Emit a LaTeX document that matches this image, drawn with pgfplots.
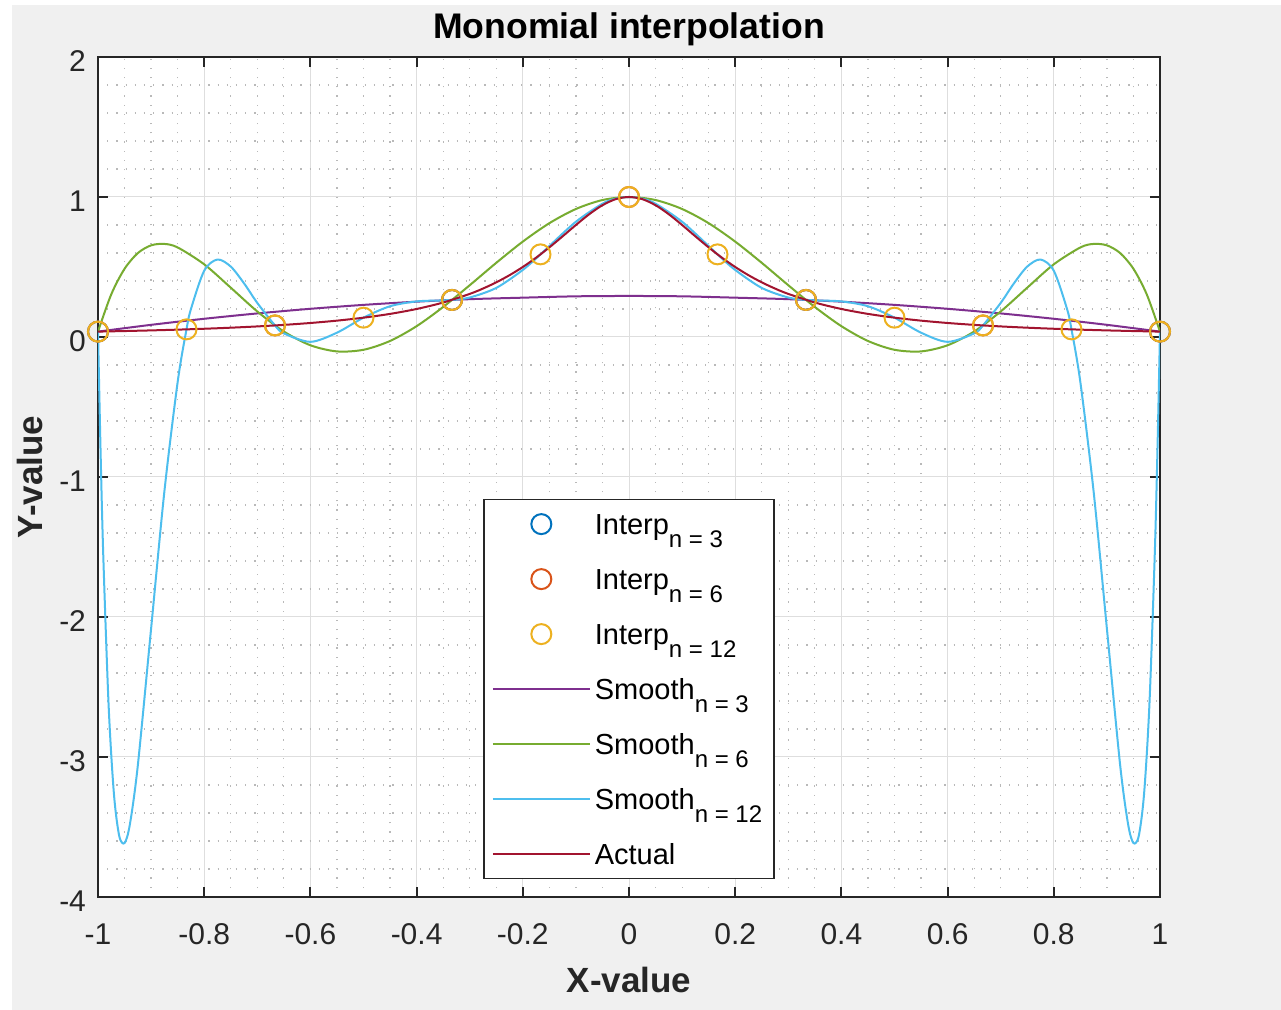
\documentclass[border=0pt]{standalone}
\usepackage{fontspec}
\setmainfont{Liberation Sans}
\usepackage{pgfplots}
\pgfplotsset{compat=1.18}

\definecolor{figGray}{RGB}{240,240,240}
\definecolor{axGray}{RGB}{38,38,38}
\definecolor{gridGray}{RGB}{222,222,222}
\definecolor{minorGray}{RGB}{185,185,185}
\definecolor{mBlue}{RGB}{0,114,189}
\definecolor{mOrange}{RGB}{217,83,25}
\definecolor{mYellow}{RGB}{237,177,32}
\definecolor{mPurple}{RGB}{126,47,142}
\definecolor{mGreen}{RGB}{119,172,48}
\definecolor{mCyan}{RGB}{77,190,238}
\definecolor{mRed}{RGB}{162,20,47}

\newcommand{\sub}[1]{\raisebox{-6.5pt}{\fontsize{12pt}{13pt}\selectfont #1}}

\begin{document}
\begin{tikzpicture}
\path[use as bounding box] (-49pt,-56.5pt) rectangle (591.5pt,448.5pt);
\fill[white] (-49pt,-56.5pt) rectangle (591.5pt,448.5pt);
\fill[figGray] (-43pt,-56.5pt) rectangle (591.5pt,446pt);
\begin{axis}[
  scale only axis,
  width=531pt, height=420pt,
  xmin=-1, xmax=1, ymin=-4, ymax=2,
  xtick={-1,-0.8,-0.6,-0.4,-0.2,0,0.2,0.4,0.6,0.8,1},
  ytick={-4,-3,-2,-1,0,1,2},
  minor x tick num=3, minor y tick num=4,
  grid=both,
  major grid style={line width=0.5pt, draw=gridGray},
  minor grid style={line width=0.6pt, draw=minorGray, dash pattern=on 0.6pt off 4pt},
  axis background/.style={fill=white},
  axis line style={line width=1pt, draw=axGray},
  tick style={line width=1pt, draw=axGray},
  major tick length=5pt, minor tick length=0pt,
  tick align=inside,
  /pgf/number format/assume math mode=true,
  /pgf/number format/fixed,
  tick label style={font=\fontsize{15pt}{18pt}\selectfont, text=axGray},
  xticklabel style={anchor=center, yshift=-18.5pt},
  yticklabel style={anchor=east, xshift=-2.5pt, yshift=-2pt},
  title={Monomial interpolation},
  title style={font=\bfseries\fontsize{17.8pt}{20pt}\selectfont, at={(axis description cs:0.5,1)}, anchor=center, yshift=8pt},
  xlabel={X-value},
  xlabel style={font=\bfseries\fontsize{17.5pt}{20pt}\selectfont, text=axGray, at={(axis description cs:0.5,0)}, anchor=center, yshift=-41.5pt},
  ylabel={Y-value},
  ylabel style={font=\bfseries\fontsize{17.5pt}{20pt}\selectfont, text=axGray, at={([xshift=-34pt]axis description cs:0,0.5)}, anchor=center, rotate=0},
  legend style={at={(0.5,0.021)}, anchor=south, draw=axGray, line width=0.75pt, fill=white,
    font=\fontsize{14.5pt}{16pt}\selectfont, inner xsep=4pt, inner ysep=3pt, row sep=9pt,
    nodes={inner sep=2pt, text height=12.5pt, text depth=2pt}},
  legend cell align=left,
  legend image code/.code={\draw[mark repeat=2,mark phase=2] plot coordinates {(0pt,0pt) (24.25pt,0pt) (48.5pt,0pt)};},
]
% interpolation nodes
\addplot[only marks, mark=o, mark size=5pt, mBlue, line width=1pt]
  coordinates {(-1,0.03846) (-0.33333,0.26471) (0.33333,0.26471) (1,0.03846)};
\addlegendentry{Interp\sub{n = 3}}
\addplot[only marks, mark=o, mark size=5pt, mOrange, line width=1pt]
  coordinates {(-1,0.03846) (-0.66667,0.08257) (-0.33333,0.26471) (0,1) (0.33333,0.26471) (0.66667,0.08257) (1,0.03846)};
\addlegendentry{Interp\sub{n = 6}}
\addplot[only marks, mark=o, mark size=5pt, mYellow, line width=1pt]
  coordinates {(-1,0.03846) (-0.83333,0.05446) (-0.66667,0.08257) (-0.5,0.13793) (-0.33333,0.26471) (-0.16667,0.59016) (0,1)
    (0.16667,0.59016) (0.33333,0.26471) (0.5,0.13793) (0.66667,0.08257) (0.83333,0.05446) (1,0.03846)};
\addlegendentry{Interp\sub{n = 12}}
% interpolating polynomials
\addplot[mPurple, line width=1pt, smooth]
  coordinates {(-1,0.03846) (-0.9,0.08682) (-0.8,0.13009) (-0.7,0.16827) (-0.6,0.20136) (-0.5,0.22936) (-0.4,0.25226)
    (-0.3,0.27008) (-0.2,0.28081) (-0.1,0.29044) (0,0.29299) (0.1,0.29044) (0.2,0.28081) (0.3,0.27008) (0.4,0.25226)
    (0.5,0.22936) (0.6,0.20136) (0.7,0.16827) (0.8,0.13009) (0.9,0.08682) (1,0.03846)};
\addlegendentry{Smooth\sub{n = 3}}
\addplot[mGreen, line width=1pt, smooth]
  coordinates {(-1,0.03846) (-0.975,0.30484) (-0.95,0.48700) (-0.925,0.59926) (-0.9,0.65464) (-0.875,0.66467) (-0.85,0.63959)
    (-0.8,0.51912) (-0.75,0.35229) (-0.7,0.18237) (-0.65,0.03914) (-0.6,-0.05901) (-0.55,-0.10303) (-0.5,-0.09142)
    (-0.45,-0.02846) (-0.4,0.07726) (-0.35,0.21430) (-0.3,0.36961) (-0.25,0.52965) (-0.2,0.68133) (-0.15,0.81282)
    (-0.1,0.91424) (-0.05,0.97817) (0,1) (0.05,0.97817) (0.1,0.91424) (0.15,0.81282) (0.2,0.68133) (0.25,0.52965)
    (0.3,0.36961) (0.35,0.21430) (0.4,0.07726) (0.45,-0.02846) (0.5,-0.09142) (0.55,-0.10303) (0.6,-0.05901)
    (0.65,0.03914) (0.7,0.18237) (0.75,0.35229) (0.8,0.51912) (0.85,0.63959) (0.875,0.66467) (0.9,0.65464)
    (0.925,0.59926) (0.95,0.48700) (0.975,0.30484) (1,0.03846)};
\addlegendentry{Smooth\sub{n = 6}}
\addplot[mCyan, line width=1pt, smooth]
  coordinates {(-1,0.03846) (-0.995,-0.84181) (-0.99,-1.56928) (-0.98,-2.63103) (-0.97,-3.26322) (-0.96,-3.56387)
    (-0.95,-3.61443) (-0.94,-3.48234) (-0.925,-3.06003) (-0.9,-2.08343) (-0.875,-1.10415) (-0.85,-0.32216)
    (-0.83333,0.05446) (-0.825,0.19892) (-0.8,0.47331) (-0.775,0.55326) (-0.75,0.50303) (-0.725,0.38336)
    (-0.7,0.24341) (-0.66667,0.08257) (-0.65,0.02576) (-0.6,-0.03463) (-0.55,0.03071) (-0.5,0.13793)
    (-0.45,0.21965) (-0.4,0.25408) (-0.35,0.26140) (-0.33333,0.26471) (-0.3,0.28188) (-0.25,0.35051)
    (-0.2,0.47890) (-0.16667,0.59016) (-0.15,0.64966) (-0.1,0.82311) (-0.05,0.95227) (-0.025,0.98784) (0,1)
    (0.025,0.98784) (0.05,0.95227) (0.1,0.82311) (0.15,0.64966) (0.16667,0.59016) (0.2,0.47890) (0.25,0.35051)
    (0.3,0.28188) (0.33333,0.26471) (0.35,0.26140) (0.4,0.25408) (0.45,0.21965) (0.5,0.13793) (0.55,0.03071)
    (0.6,-0.03463) (0.65,0.02576) (0.66667,0.08257) (0.7,0.24341) (0.725,0.38336) (0.75,0.50303) (0.775,0.55326)
    (0.8,0.47331) (0.825,0.19892) (0.83333,0.05446) (0.85,-0.32216) (0.875,-1.10415) (0.9,-2.08343)
    (0.925,-3.06003) (0.94,-3.48234) (0.95,-3.61443) (0.96,-3.56387) (0.97,-3.26322) (0.98,-2.63103)
    (0.99,-1.56928) (0.995,-0.84181) (1,0.03846)};
\addlegendentry{Smooth\sub{n = 12}}
% Runge function
\addplot[mRed, line width=1pt, smooth]
  coordinates {(-1,0.03846) (-0.95,0.04244) (-0.9,0.04706) (-0.85,0.05246) (-0.8,0.05882) (-0.75,0.06639) (-0.7,0.07547)
    (-0.65,0.08649) (-0.6,0.1) (-0.55,0.11679) (-0.5,0.13793) (-0.45,0.16495) (-0.4,0.2) (-0.35,0.24615)
    (-0.3,0.30769) (-0.275,0.34595) (-0.25,0.39024) (-0.225,0.44138) (-0.2,0.5) (-0.175,0.56637) (-0.15,0.64)
    (-0.125,0.71910) (-0.1,0.8) (-0.075,0.87671) (-0.05,0.94118) (-0.025,0.98462) (0,1)
    (0.025,0.98462) (0.05,0.94118) (0.075,0.87671) (0.1,0.8) (0.125,0.71910) (0.15,0.64) (0.175,0.56637)
    (0.2,0.5) (0.225,0.44138) (0.25,0.39024) (0.275,0.34595) (0.3,0.30769) (0.35,0.24615) (0.4,0.2)
    (0.45,0.16495) (0.5,0.13793) (0.55,0.11679) (0.6,0.1) (0.65,0.08649) (0.7,0.07547) (0.75,0.06639)
    (0.8,0.05882) (0.85,0.05246) (0.9,0.04706) (0.95,0.04244) (1,0.03846)};
\addlegendentry{Actual}
\end{axis}
\end{tikzpicture}
\end{document}
